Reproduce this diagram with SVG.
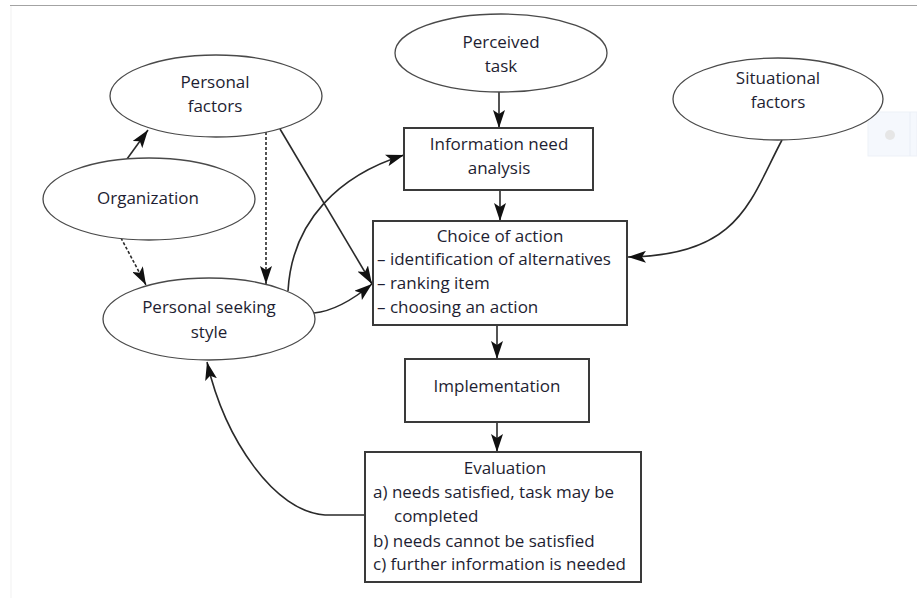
<svg xmlns="http://www.w3.org/2000/svg" width="917" height="598" viewBox="0 0 917 598">
<style>
  .bg { fill: #ffffff; }
  .ell { fill: #ffffff; stroke: #4a4a4a; stroke-width: 1.3; }
  .box { fill: #ffffff; stroke: #3a3a3a; stroke-width: 2; }
  .t { font-family: "Open Sans", "Liberation Sans", sans-serif; font-size: 17px; fill: #1e1e32; }
  .c { text-anchor: middle; }
  .ln { fill: none; stroke: #2a2a2a; stroke-width: 1.6; }
  .dot { stroke-dasharray: 3 2; }
</style>
<defs>
  <marker id="ah" markerUnits="userSpaceOnUse" markerWidth="18" markerHeight="12" refX="18" refY="6" orient="auto">
    <path d="M0,0 L18,6 L0,12 L4,6 z" fill="#111111"/>
  </marker>
</defs>
<rect class="bg" x="0" y="0" width="917" height="598"/>
<line x1="10" y1="5.5" x2="917" y2="5.5" stroke="#a3a3a3" stroke-width="1.2"/>
<line x1="11" y1="6" x2="11" y2="598" stroke="#f1f1f1" stroke-width="1"/>
<g id="ui-artifact">
  <rect x="868" y="112" width="49" height="44" fill="#f5f8fd" stroke="#edf1f7" stroke-width="1"/>
  <line x1="910" y1="112" x2="910" y2="156" stroke="#e9eef6" stroke-width="1"/>
  <circle cx="890" cy="135" r="5" fill="#e6e6e6"/>
</g>

<g id="connectors">
  <path class="ln" d="M499,92 L499,128" marker-end="url(#ah)"/>
  <path class="ln" d="M500,190 L500,221" marker-end="url(#ah)"/>
  <path class="ln" d="M497,325 L497,359" marker-end="url(#ah)"/>
  <path class="ln" d="M497,422 L497,452" marker-end="url(#ah)"/>
  <path class="ln" d="M127,159 L148,130" marker-end="url(#ah)"/>
  <path class="ln dot" d="M121,238 L146,285" marker-end="url(#ah)"/>
  <path class="ln dot" d="M266,132 L266,284" marker-end="url(#ah)"/>
  <path class="ln" d="M280,129 L372,284" marker-end="url(#ah)"/>
  <path class="ln" d="M288,291 C292,220 340,175 404,155" marker-end="url(#ah)"/>
  <path class="ln" d="M314,313 C335,311 355,298 372,284" marker-end="url(#ah)"/>
  <path class="ln" d="M782,140 C750,200 740,256 628,257" marker-end="url(#ah)"/>
  <path class="ln" d="M365,515 L325,515 C275,512 225,440 207,362" marker-end="url(#ah)"/>
</g>

<g id="personal-factors">
  <ellipse class="ell" cx="216" cy="96" rx="106" ry="41"/>
  <text class="t c" x="215" y="88">Personal</text>
  <text class="t c" x="215" y="112">factors</text>
</g>
<g id="organization">
  <ellipse class="ell" cx="149" cy="199" rx="106" ry="41"/>
  <text class="t c" x="148" y="204">Organization</text>
</g>
<g id="personal-seeking-style">
  <ellipse class="ell" cx="209" cy="319" rx="106" ry="41"/>
  <text class="t c" x="209" y="313">Personal seeking</text>
  <text class="t c" x="209" y="338">style</text>
</g>
<g id="perceived-task">
  <ellipse class="ell" cx="501" cy="53" rx="106" ry="39"/>
  <text class="t c" x="501" y="48">Perceived</text>
  <text class="t c" x="501" y="72">task</text>
</g>
<g id="situational-factors">
  <ellipse class="ell" cx="778" cy="99" rx="105" ry="41"/>
  <text class="t c" x="778" y="84">Situational</text>
  <text class="t c" x="778" y="108">factors</text>
</g>
<g id="information-need-analysis">
  <rect class="box" x="404" y="128" width="189" height="62"/>
  <text class="t c" x="499" y="150">Information need</text>
  <text class="t c" x="499" y="174">analysis</text>
</g>
<g id="choice-of-action">
  <rect class="box" x="373" y="221" width="254" height="104"/>
  <text class="t c" x="500" y="242">Choice of action</text>
  <text class="t" x="377" y="265">– identification of alternatives</text>
  <text class="t" x="377" y="289">– ranking item</text>
  <text class="t" x="377" y="313">– choosing an action</text>
</g>
<g id="implementation">
  <rect class="box" x="405" y="359" width="184" height="63"/>
  <text class="t c" x="497" y="392">Implementation</text>
</g>
<g id="evaluation">
  <rect class="box" x="365" y="452" width="276" height="130"/>
  <text class="t c" x="505" y="474">Evaluation</text>
  <text class="t" x="373" y="498">a) needs satisfied, task may be</text>
  <text class="t" x="394" y="522">completed</text>
  <text class="t" x="373" y="547">b) needs cannot be satisfied</text>
  <text class="t" x="373" y="570">c) further information is needed</text>
</g>
</svg>
